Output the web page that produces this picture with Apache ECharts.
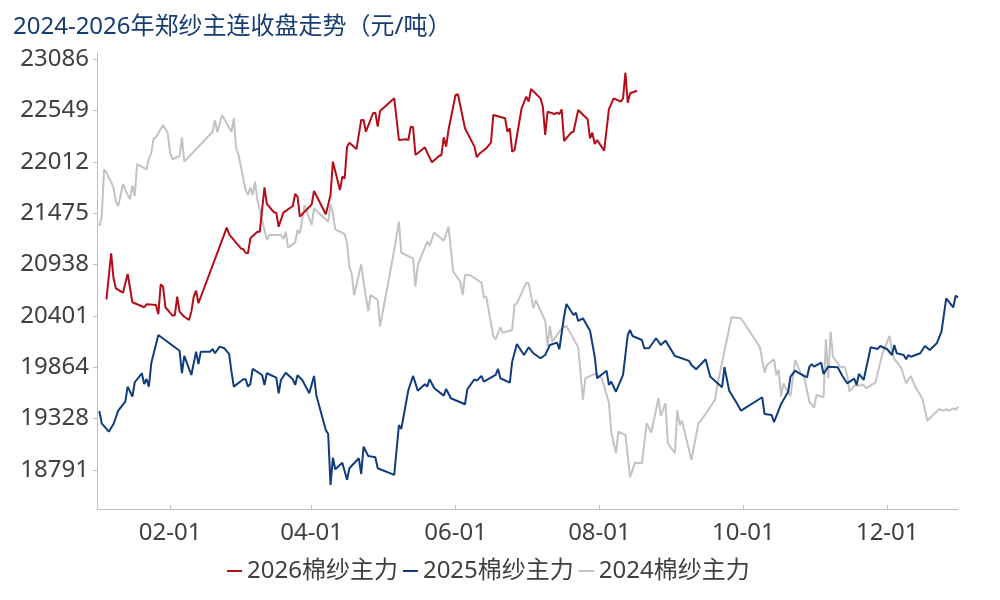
<!DOCTYPE html>
<html><head><meta charset="utf-8">
<script src="https://cdn.jsdelivr.net/npm/echarts@6/dist/echarts.min.js"></script>
<style>html,body{margin:0;padding:0;background:#fff}#c{width:1000px;height:600px}</style>
</head><body><div id="c"></div>
<script>
const titleText = '2024-2026年郑纱主连收盘走势（元/吨）';
const seriesNames = ['2026棉纱主力','2025棉纱主力','2024棉纱主力'];
const xTickLabels = ['02-01','04-01','06-01','08-01','10-01','12-01'];
const yTickLabels = [18791,19328,19864,20401,20938,21475,22012,22549,23086];

const dates2026 = ['01-05','01-07','01-08','01-09','01-12','01-14','01-16','01-21','01-22','01-26','01-27','01-28','01-29','01-30','02-02','02-03','02-04','02-05','02-07','02-09','02-10','02-11','02-12','02-13','02-25','02-26','03-02','03-03','03-04','03-05','03-06','03-09','03-10','03-12','03-13','03-16','03-17','03-18','03-20','03-24','03-25','03-26','03-27','04-01','04-02','04-07','04-09','04-10','04-13','04-14','04-15','04-16','04-17','04-20','04-22','04-23','04-24','04-27','04-28','04-29','04-30','05-06','05-08','05-11','05-12','05-13','05-14','05-15','05-19','05-20','05-22','05-25','05-26','05-27','05-28','05-29','06-01','06-02','06-05','06-09','06-10','06-11','06-14','06-16','06-17','06-22','06-23','06-24','06-25','06-26','06-29','07-01','07-02','07-03','07-07','07-08','07-09','07-10','07-13','07-14','07-15','07-16','07-17','07-20','07-21','07-23','07-27','07-28','07-29','07-30','07-31','08-03','08-05','08-07','08-10','08-11','08-12','08-13','08-14','08-17'];
const values2026 = [20574,21055,20794,20689,20643,20839,20543,20491,20522,20515,20418,20731,20706,20491,20403,20410,20602,20445,20392,20358,20445,20602,20664,20533,21323,21254,21107,21097,21061,21055,21212,21281,21281,21745,21571,21484,21480,21333,21480,21550,21675,21647,21438,21565,21706,21463,21665,22013,21717,21856,21839,22170,22211,22145,22449,22449,22326,22519,22525,22379,22543,22675,22240,22247,22240,22379,22372,22083,22163,22107,22006,22072,22083,22268,22170,22344,22710,22717,22362,22170,22059,22093,22153,22211,22501,22466,22326,22362,22117,22135,22571,22692,22640,22773,22675,22588,22292,22535,22511,22525,22511,22560,22229,22316,22326,22553,22456,22257,22316,22198,22240,22128,22560,22675,22640,22675,22943,22629,22728,22755];

const dates2025 = ['01-02','01-03','01-06','01-08','01-10','01-13','01-14','01-16','01-17','01-20','01-21','01-22','01-23','01-24','01-27','02-05','02-06','02-07','02-10','02-12','02-13','02-14','02-18','02-19','02-20','02-22','02-24','02-26','02-27','02-28','03-03','03-04','03-05','03-06','03-07','03-11','03-12','03-13','03-17','03-18','03-19','03-21','03-24','03-25','03-26','03-28','03-31','04-02','04-03','04-07','04-08','04-09','04-10','04-11','04-14','04-16','04-17','04-21','04-22','04-23','04-25','04-28','04-29','05-06','05-08','05-09','05-12','05-14','05-16','05-19','05-20','05-21','05-23','05-27','05-28','05-30','06-05','06-06','06-09','06-10','06-12','06-13','06-18','06-19','06-20','06-24','06-25','06-27','06-30','07-02','07-04','07-07','07-09','07-11','07-14','07-15','07-17','07-18','07-21','07-22','07-23','07-25','07-28','07-30','07-31','08-04','08-05','08-06','08-08','08-11','08-13','08-14','08-15','08-19','08-20','08-22','08-25','08-27','08-29','09-02','09-03','09-08','09-09','09-11','09-15','09-17','09-22','09-23','09-25','09-28','09-30','10-09','10-10','10-13','10-14','10-17','10-20','10-21','10-23','10-24','10-28','10-29','10-30','10-31','11-03','11-04','11-06','11-10','11-12','11-14','11-17','11-18','11-19','11-21','11-24','11-27','11-28','12-01','12-03','12-04','12-05','12-08','12-09','12-10','12-11','12-15','12-17','12-19','12-22','12-24','12-26','12-29','12-30','12-31'];
const values2025 = [19407,19278,19190,19271,19410,19504,19661,19556,19707,19801,19689,19741,19661,19905,20201,20037,19801,19982,19783,20027,19898,20027,20027,20055,20010,20079,20062,20003,19818,19661,19738,19738,19661,19689,19846,19783,19679,19801,19755,19592,19731,19807,19738,19679,19780,19731,19592,19773,19569,19208,19166,18633,18919,18797,18866,18686,18808,18912,18748,19034,18936,18923,18808,18738,19260,19219,19626,19773,19619,19686,19661,19738,19644,19567,19637,19540,19477,19634,19738,19724,19773,19713,19783,19846,19749,19703,19922,20107,19992,20073,20010,19958,19992,20097,20121,20052,20392,20525,20410,20434,20348,20376,20246,19974,19749,19828,19679,19713,19608,19783,20201,20253,20191,20149,20062,20062,20167,20097,20142,19982,19974,19930,19888,19843,19947,19765,19655,19864,19619,19498,19410,19550,19375,19365,19289,19480,19608,19765,19828,19811,19759,19870,19895,19870,19912,19794,19870,19864,19773,19696,19745,19679,19794,19731,20073,20055,20086,20052,19992,20097,20010,19992,19947,19992,19974,20010,20086,20044,20114,20236,20585,20491,20612,20595];

const dates2024 = ['01-02','01-03','01-04','01-05','01-08','01-09','01-10','01-12','01-13','01-15','01-16','01-17','01-18','01-22','01-23','01-24','01-25','01-26','01-29','01-31','02-01','02-02','02-05','02-06','02-07','02-19','02-20','02-21','02-23','02-27','02-28','02-29','03-01','03-04','03-05','03-06','03-07','03-08','03-09','03-11','03-13','03-14','03-19','03-20','03-21','03-22','03-25','03-26','03-27','03-29','04-01','04-02','04-08','04-09','04-10','04-11','04-15','04-16','04-17','04-18','04-19','04-22','04-23','04-25','04-26','04-29','04-30','05-06','05-08','05-09','05-14','05-15','05-16','05-20','05-21','05-23','05-27','05-29','05-31','06-03','06-04','06-05','06-07','06-12','06-13','06-14','06-17','06-18','06-20','06-21','06-25','06-26','06-27','07-01','07-02','07-04','07-05','07-09','07-10','07-11','07-12','07-16','07-18','07-23','07-25','07-26','07-30','08-02','08-05','08-06','08-08','08-09','08-12','08-14','08-16','08-19','08-21','08-23','08-26','08-27','08-29','08-30','09-02','09-03','09-04','09-05','09-09','09-12','09-13','09-18','09-19','09-20','09-26','09-30','10-08','10-10','10-11','10-14','10-15','10-16','10-17','10-18','10-19','10-21','10-23','10-25','10-27','10-29','10-31','11-01','11-04','11-05','11-06','11-07','11-08','11-11','11-13','11-14','11-15','11-17','11-21','11-22','11-26','11-29','12-02','12-03','12-04','12-05','12-07','12-09','12-11','12-13','12-16','12-18','12-19','12-23','12-25','12-26','12-27','12-29','12-30','12-31'];
const values2024 = [21341,21438,21933,21898,21745,21595,21550,21780,21717,21620,21762,21654,21986,21933,22048,22101,22257,22268,22396,22310,22101,22038,22072,22268,22013,22326,22449,22320,22501,22326,22466,22153,22083,21717,21665,21745,21665,21804,21612,21403,21194,21246,21246,21205,21281,21114,21166,21299,21264,21560,21351,21524,21386,21567,21473,21306,21257,21160,20909,20839,20619,20940,20758,20452,20619,20567,20288,21090,21386,21061,21003,20706,20933,21177,21135,21271,21187,21333,20863,20758,20619,20828,20828,20748,20593,20604,20191,20156,20282,20225,20253,20515,20533,20748,20742,20480,20564,20348,20086,20295,20131,20271,20295,20073,19522,19749,19794,19749,19494,19190,18965,19190,19156,18714,18866,18860,19278,19180,19540,19355,19487,19069,18965,19417,19260,19305,18895,19284,19305,19487,19522,19679,20386,20376,20076,19807,19888,19947,19783,19835,19556,19696,19644,19564,19940,19818,19738,19504,19441,19574,19550,20156,19749,20236,19974,19870,19864,19783,19608,19668,19679,19644,19703,20010,20191,20037,19947,19922,19853,19696,19773,19655,19529,19305,19330,19425,19410,19425,19410,19435,19417,19452];

const BASE_YEAR = 2024;
function ts(md){ const p = md.split('-'); return Date.UTC(BASE_YEAR, +p[0]-1, +p[1]); }
function pairs(ds, vs){ return ds.map((d,i)=>[ts(d), vs[i]]); }
const colors = ['#B50D18','#0F3C7C','#C3C3C3'];
const xTickValues = xTickLabels.map(ts);
const labelFont = "'Noto Sans','Noto Sans CJK SC',sans-serif";

const chart = echarts.init(document.getElementById('c'));
chart.setOption({
  animation:false,
  color: colors,
  title:{ text:titleText, left:8, top:10, textStyle:{color:'#153D75', fontSize:24, fontWeight:'normal', fontFamily:labelFont}},
  grid:{ left:97, right:42, top:53, bottom:91, containLabel:false },
  legend:{ data:seriesNames, bottom:12, left:222, itemGap:5, itemWidth:15, itemHeight:2, icon:'rect',
    textStyle:{ color:'#404040', fontSize:24, fontFamily:labelFont } },
  xAxis:{ type:'value', min:ts('01-01'), max:ts('12-31'),
    axisLine:{ lineStyle:{ color:'#BFBFBF', width:1 } },
    axisTick:{ show:true, inside:true, length:4, lineStyle:{ color:'#BFBFBF' }, customValues: xTickValues },
    axisLabel:{ color:'#404040', fontSize:24, fontFamily:labelFont, margin:12, customValues: xTickValues,
      formatter: function(v){ const d=new Date(v); return String(d.getUTCMonth()+1).padStart(2,'0')+'-'+String(d.getUTCDate()).padStart(2,'0'); } },
    splitLine:{ show:false } },
  yAxis:{ type:'value', min:18382, max:23149,
    axisLine:{ show:true, lineStyle:{ color:'#BFBFBF', width:1 } },
    axisTick:{ show:true, length:4, lineStyle:{ color:'#BFBFBF' }, customValues: yTickLabels },
    axisLabel:{ color:'#404040', fontSize:24, fontFamily:labelFont, margin:8, customValues: yTickLabels,
      formatter: function(v){ return String(Math.round(v)); } },
    splitLine:{ show:false } },
  series:[
    { name:seriesNames[0], type:'line', data:pairs(dates2026, values2026), showSymbol:false, lineStyle:{ width:2, color:colors[0] }, z:4 },
    { name:seriesNames[1], type:'line', data:pairs(dates2025, values2025), showSymbol:false, lineStyle:{ width:2, color:colors[1] }, z:3 },
    { name:seriesNames[2], type:'line', data:pairs(dates2024, values2024), showSymbol:false, lineStyle:{ width:2, color:colors[2] }, z:2 }
  ]
});
</script></body></html>
